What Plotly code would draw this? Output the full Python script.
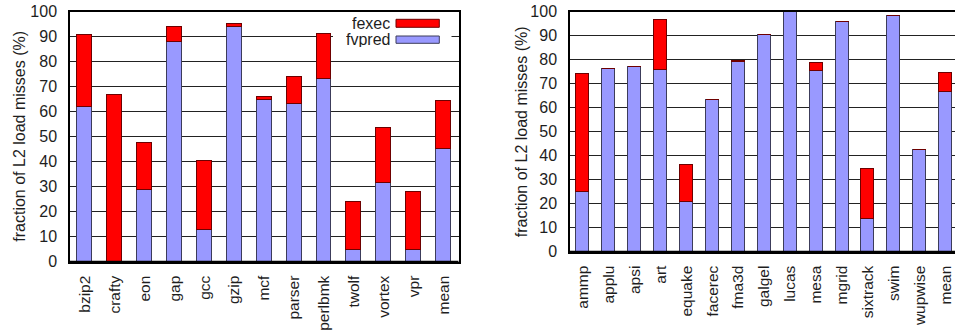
import plotly.graph_objects as go

# SPECint benchmarks (left panel)
int_names = ["bzip2", "crafty", "eon", "gap", "gcc", "gzip", "mcf", "parser",
             "perlbmk", "twolf", "vortex", "vpr", "mean"]
int_fvpred = [62.0, 0.0, 29.0, 88.0, 12.7, 94.2, 64.7, 63.1, 73.4, 4.7, 31.8, 4.7, 45.4]
int_fexec = [29.0, 67.0, 18.8, 6.0, 27.6, 1.2, 1.3, 11.1, 18.0, 19.3, 21.8, 23.5, 19.2]

# SPECfp benchmarks (right panel)
fp_names = ["ammp", "applu", "apsi", "art", "equake", "facerec", "fma3d", "galgel",
            "lucas", "mesa", "mgrid", "sixtrack", "swim", "wupwise", "mean"]
fp_fvpred = [25.2, 76.1, 77.1, 76.0, 20.7, 63.5, 79.3, 90.6, 100.0, 75.6, 95.8, 13.8, 98.5, 42.5, 66.8]
fp_fexec = [49.1, 0.0, 0.0, 20.8, 15.6, 0.0, 0.4, 0.0, 0.0, 3.0, 0.0, 20.8, 0.0, 0.0, 7.9]

y_ticks = [0, 10, 20, 30, 40, 50, 60, 70, 80, 90, 100]
y_title = "fraction of L2 load misses (%)"

W, H = 955, 331
FONT = "Liberation Sans, Arial, sans-serif"
TXT = "#1e1e1e"
BLUE = "#9999ff"
RED = "#ff0000"
BLUE_EDGE = "#3c3c5a"
RED_EDGE = "#6e0000"


def px_x(v):
    return v / W


def px_y(v):
    return 1 - v / H


fig = go.Figure()

for xa, ya, names, fv, fe in [("x", "y", int_names, int_fvpred, int_fexec),
                              ("x2", "y2", fp_names, fp_fvpred, fp_fexec)]:
    fig.add_trace(go.Bar(x=names, y=fv, name="fvpred", xaxis=xa, yaxis=ya,
                         marker=dict(color=BLUE, line=dict(color=BLUE_EDGE, width=1)),
                         width=0.5, showlegend=False))
    fig.add_trace(go.Bar(x=names, y=fe, name="fexec", xaxis=xa, yaxis=ya,
                         marker=dict(color=RED, line=dict(color=RED_EDGE, width=1)),
                         width=0.5, showlegend=False))

xaxis_common = dict(
    showgrid=False, zeroline=False, automargin=False, tickangle=-90,
    ticks="", ticklabelstandoff=6, mirror=True,
    tickfont=dict(family=FONT, size=15.5, color=TXT),
    showline=True, linecolor="black", linewidth=1.5,
)
yaxis_common = dict(
    range=[0, 100], tickvals=y_ticks, showgrid=True, gridcolor="#222222",
    gridwidth=1, zeroline=False, ticks="", ticklabelstandoff=8, automargin=False,
    tickfont=dict(family=FONT, size=16, color=TXT),
    showline=True, linecolor="black", linewidth=1.5,
)

# left panel: 70..458.5 px wide, 11.7..261.7 px tall
left_dom_x = [px_x(70), px_x(458.5)]
left_dom_y = [px_y(261.7), px_y(11.7)]
# right panel: 570 px to the window edge, 11.7..251.7 px tall
right_dom_x = [px_x(570), 1.0]
right_dom_y = [px_y(251.7), px_y(11.7)]

fig.update_layout(
    width=W, height=H,
    margin=dict(l=0, r=0, t=0, b=0),
    paper_bgcolor="white", plot_bgcolor="white",
    barmode="stack", bargap=0,
    font=dict(family=FONT, size=16, color=TXT),
    xaxis=dict(domain=left_dom_x, anchor="y", range=[-0.5, 12.5], **xaxis_common),
    yaxis=dict(domain=left_dom_y, anchor="x", mirror=True, **yaxis_common),
    xaxis2=dict(domain=right_dom_x, anchor="y2", range=[-0.5, 14.36], **xaxis_common),
    yaxis2=dict(domain=right_dom_y, anchor="x2", mirror=False, **yaxis_common),
)

# thicker baseline under each panel
fig.add_shape(type="line", xref="paper", yref="paper",
              x0=left_dom_x[0], x1=left_dom_x[1], y0=left_dom_y[0], y1=left_dom_y[0],
              line=dict(color="black", width=2), layer="above")
fig.add_shape(type="line", xref="paper", yref="paper",
              x0=right_dom_x[0], x1=right_dom_x[1], y0=right_dom_y[0], y1=right_dom_y[0],
              line=dict(color="black", width=2), layer="above")

# axis titles
for cx, cy in [(20, 136.7), (521.5, 131.7)]:
    fig.add_annotation(text=y_title, xref="paper", yref="paper",
                       x=px_x(cx), y=px_y(cy), textangle=-90, showarrow=False,
                       xanchor="center", yanchor="middle",
                       font=dict(family=FONT, size=16, color=TXT))

# legend box inside the left panel: label on the left, swatch on the right
fig.add_shape(type="rect", xref="paper", yref="paper",
              x0=px_x(333), x1=px_x(451.5), y0=px_y(47), y1=px_y(13),
              fillcolor="white", line=dict(width=0), layer="above")
for label, color, edge, top, bot in [("fexec", RED, RED_EDGE, 19.3, 27.3),
                                      ("fvpred", BLUE, BLUE_EDGE, 36.0, 43.3)]:
    fig.add_shape(type="rect", xref="paper", yref="paper",
                  x0=px_x(396), x1=px_x(439.3), y0=px_y(bot), y1=px_y(top),
                  fillcolor=color, line=dict(color=edge, width=1), layer="above")
    fig.add_annotation(text=label, xref="paper", yref="paper",
                       x=px_x(391), y=px_y((top + bot) / 2), showarrow=False,
                       xanchor="right", yanchor="middle", height=15,
                       borderpad=0,
                       font=dict(family=FONT, size=16, color=TXT))

fig.write_html("out.html")
